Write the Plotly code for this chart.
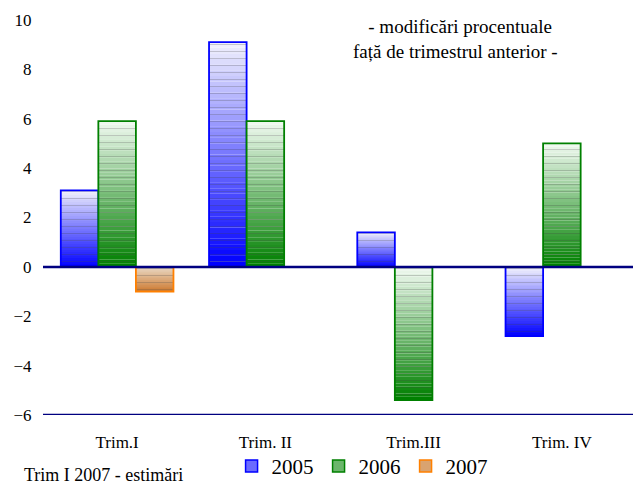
import plotly.graph_objects as go

# date: modificari procentuale fata de trimestrul anterior
categories = ["Trim.I", "Trim. II", "Trim.III", "Trim. IV"]
years = ["2005", "2006", "2007"]
v2005 = [3.1, 9.1, 1.4, -2.8]
v2006 = [5.9, 5.9, -5.4, 5.0]
v2007 = [-1.0, None, None, None]
yticks = [-6, -4, -2, 0, 2, 4, 6, 8, 10]

values = {"2005": v2005, "2006": v2006, "2007": v2007}
# (jos, sus, contur)
colors = {
    "2005": ((0, 0, 255), (238, 238, 252), "#0000ff"),
    "2006": ((0, 128, 0), (238, 248, 238), "#008000"),
    "2007": ((205, 120, 45), (232, 215, 195), "#ff8000"),
}
N = 40
FONT = "Times New Roman, Liberation Serif, serif"


def mix(c0, c1, t):
    return "rgb(%d,%d,%d)" % tuple(round(a + (b - a) * t) for a, b in zip(c0, c1))


fig = go.Figure()

for yr in years:
    vals = values[yr]
    dark, light, edge = colors[yr]
    # gradient: felii orizontale, inchis jos -> deschis sus
    for k in range(N):
        bases, heights = [], []
        for v in vals:
            if v is None:
                bases.append(None)
                heights.append(None)
            else:
                bases.append(min(0, v) + abs(v) * k / N)
                heights.append(abs(v) / N * 1.02)
        fig.add_trace(go.Bar(
            x=categories, y=heights, base=bases, offsetgroup=yr,
            marker=dict(color=mix(dark, light, k / (N - 1)), line=dict(width=0)),
            showlegend=False, hoverinfo="skip"))
    # contur + dungi
    fig.add_trace(go.Bar(
        x=categories, y=vals, offsetgroup=yr, name=yr, showlegend=False,
        marker=dict(color="rgba(0,0,0,0)", line=dict(color=edge, width=1.8),
                    pattern=dict(shape="-", size=7, solidity=0.12,
                                 fgcolor="rgba(70,70,70,0.6)", fillmode="overlay"))))
    # doar pentru legenda
    fig.add_trace(go.Bar(
        x=[None], y=[None], offsetgroup=yr, name=yr,
        marker=dict(color=mix(dark, light, 0.45), line=dict(color=edge, width=1.5))))

fig.add_shape(type="line", xref="paper", yref="y", x0=0, x1=1.02, y0=0, y1=0,
              line=dict(color="#000080", width=2.5), layer="above")
fig.add_shape(type="line", xref="paper", yref="y", x0=0, x1=1.02, y0=-6, y1=-6,
              line=dict(color="#000080", width=2.5), layer="above")

fig.add_annotation(text="  - modificări procentuale<br>față de trimestrul anterior -",
                   xref="paper", yref="paper", x=0.695, y=0.952, showarrow=False,
                   xanchor="center", yanchor="middle", align="center",
                   font=dict(family=FONT, size=19, color="black"), borderpad=0)
fig.add_annotation(text="Trim I 2007 - estimări", xref="paper", yref="paper",
                   x=-0.034, y=-0.152, xanchor="left", yanchor="middle", showarrow=False,
                   font=dict(family=FONT, size=18, color="black"), borderpad=0)

# pagina are 8px margine in body -> figura putin mai mica
fig.update_layout(
    width=633, height=478,
    margin=dict(l=35, r=5, t=12, b=71, autoexpand=False),
    paper_bgcolor="white", plot_bgcolor="white",
    barmode="group", bargap=0.24, bargroupgap=0,
    font=dict(family=FONT, size=15, color="black"),
    showlegend=True,
    legend=dict(orientation="h", x=0.318, y=-0.13, xanchor="left", yanchor="middle",
                font=dict(family=FONT, size=21), itemwidth=30,
                bgcolor="rgba(0,0,0,0)"),
)
fig.update_xaxes(showgrid=False, zeroline=False, showline=False,
                 ticks="outside", ticklen=12, tickcolor="rgba(0,0,0,0)",
                 tickfont=dict(family=FONT, size=17))
fig.update_yaxes(range=[-6, 10], tickvals=yticks, showgrid=False, zeroline=False,
                 showline=False, ticks="outside", ticklen=7, tickcolor="rgba(0,0,0,0)",
                 tickfont=dict(family=FONT, size=17))

fig.write_html("out.html")
